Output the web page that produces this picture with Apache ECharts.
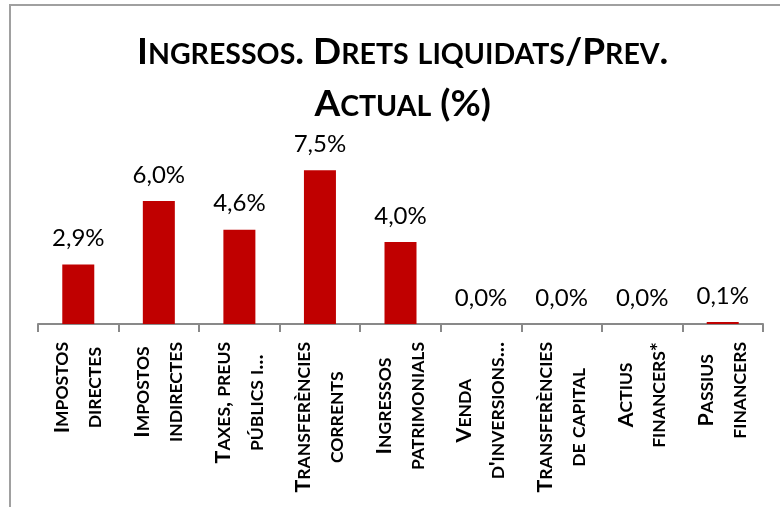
<!DOCTYPE html>
<html>
<head>
<meta charset="utf-8">
<script src="https://cdn.jsdelivr.net/npm/echarts@6/dist/echarts.min.js"></script>
<style>
  html, body { margin: 0; padding: 0; background: #fff; }
  #frame { position: absolute; left: 9px; top: 4px; width: 800px; height: 520px;
           border-left: 2px solid #a0a0a0; border-top: 2px solid #a0a0a0; }
  #chart { position: absolute; left: 0; top: 0; width: 780px; height: 507px; }
</style>
</head>
<body>
<div id="frame"></div>
<div id="chart"></div>
<script>
// categories i valors (% drets liquidats sobre previsió actual)
var titleText = 'Ingressos. Drets liquidats/Prev.\nActual (%)';
var categories = [
  'Impostos\ndirectes',
  'Impostos\nindirectes',
  'Taxes, preus\npúblics i...',
  'Transferències\ncorrents',
  'Ingressos\npatrimonials',
  'Venda\nd\'inversions...',
  'Transferències\nde capital',
  'Actius\nfinancers*',
  'Passius\nfinancers'
];
var values = [2.9, 6.0, 4.6, 7.5, 4.0, 0.0, 0.0, 0.0, 0.1];

// versaletes a l'estil d'Excel: minúscules -> majúscules petites
function smallCaps(line) {
  var out = '', cur = null, buf = '';
  for (var i = 0; i < line.length; i++) {
    var ch = line.charAt(i);
    var cls = ch !== ch.toUpperCase() ? 's' : 'b';
    if (cls !== cur) {
      if (buf) out += '{' + cur + '|' + buf + '}';
      cur = cls; buf = '';
    }
    buf += ch.toUpperCase();
  }
  if (buf) out += '{' + cur + '|' + buf + '}';
  return out;
}
function smallCapsText(str) {
  return str.split('\n').map(smallCaps).join('\n');
}

var myChart = echarts.init(document.getElementById('chart'));
var option = {
  animation: false,
  title: {
    text: smallCapsText(titleText),
    left: 137,
    top: 26,
    padding: 0,
    textStyle: {
      fontFamily: 'Lato',
      fontWeight: 'bold',
      rich: {
        b: { fontFamily: 'Lato', fontWeight: 'bold', fontSize: 37, lineHeight: 52, color: '#000', align: 'center' },
        s: { fontFamily: 'Lato', fontWeight: 'bold', fontSize: 28.5, lineHeight: 52, color: '#000', align: 'center',
             padding: [5, 0, 0, 0] }
      }
    }
  },
  grid: { left: 38, right: 17, top: 160, bottom: 183 },
  xAxis: {
    type: 'category',
    data: categories,
    axisLine: { lineStyle: { color: '#898989', width: 2 } },
    axisTick: { show: true, length: 8, lineStyle: { color: '#898989', width: 2 } },
    axisLabel: {
      interval: 0,
      rotate: 90,
      margin: 18,
      fontFamily: 'Lato',
      fontWeight: 'bold',
      fontSize: 18,
      color: '#000',
      formatter: function (v) { return smallCapsText(v); },
      rich: {
        b: { fontFamily: 'Lato', fontWeight: 'bold', fontSize: 21.5, lineHeight: 33, color: '#000', align: 'center' },
        s: { fontFamily: 'Lato', fontWeight: 'bold', fontSize: 17.5, lineHeight: 33, color: '#000', align: 'center',
             padding: [2, 0, 0, 0] }
      }
    }
  },
  yAxis: { type: 'value', show: false, min: 0, max: 8 },
  series: [
    {
      type: 'bar',
      data: values,
      barWidth: 32,
      itemStyle: { color: '#c00000' },
      label: {
        show: true,
        position: 'top',
        distance: 14,
        fontFamily: 'Lato',
        fontSize: 24,
        color: '#000',
        formatter: function (p) { return p.value.toFixed(1).replace('.', ',') + '%'; }
      }
    }
  ]
};
myChart.setOption(option);
</script>
</body>
</html>
